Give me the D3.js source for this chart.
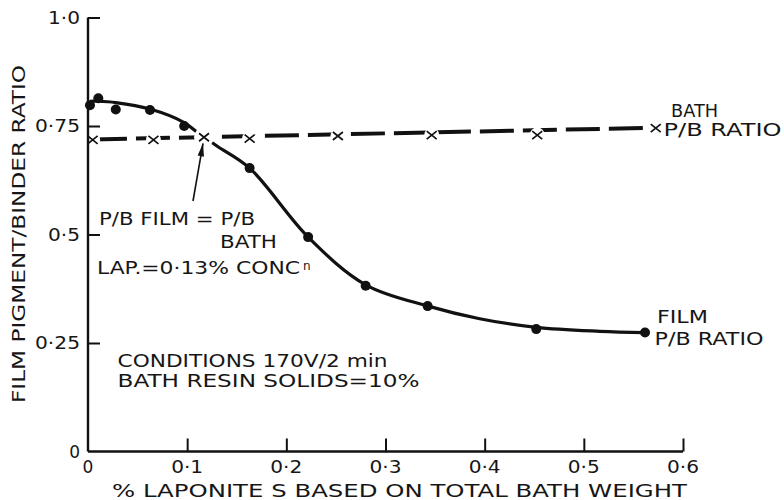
<!DOCTYPE html>
<html>
<head>
<meta charset="utf-8">
<script src="https://cdn.jsdelivr.net/npm/d3@7"></script>
<style>
  html, body { margin: 0; padding: 0; background: #fff; }
  svg { display: block; }
  text { font-family: "DejaVu Sans", "Liberation Sans", sans-serif; fill: #161616; }
</style>
</head>
<body>
<svg id="chart" width="784" height="500"></svg>
<script>
// ---- data ----
const filmX = [0.002, 0.0104, 0.028, 0.0625, 0.097, 0.163, 0.222, 0.280, 0.3425, 0.452, 0.5617];
const filmY = [0.798, 0.814, 0.788, 0.787, 0.750, 0.653, 0.494, 0.382, 0.335, 0.282, 0.274];
// hand-drawn fitted film curve
const filmCurveX = [0.002, 0.010, 0.028, 0.0625, 0.097, 0.110, 0.130, 0.163, 0.222, 0.280, 0.343, 0.395, 0.452, 0.516, 0.5617];
const filmCurveY = [0.807, 0.807, 0.804, 0.789, 0.758, 0.736, 0.704, 0.653, 0.494, 0.384, 0.335, 0.306, 0.286, 0.277, 0.274];
const bathX = [0.0047, 0.066, 0.117, 0.163, 0.252, 0.3466, 0.453, 0.5725];
const bathY = [0.718, 0.718, 0.724, 0.721, 0.727, 0.729, 0.729, 0.745];
// hand-drawn dashed bath trend line
const bathTrendX = [0.005, 0.5725];
const bathTrendY = [0.719, 0.746];
const xTicks = [0, 0.1, 0.2, 0.3, 0.4, 0.5, 0.6];
const xTickLabels = ["0", "0·1", "0·2", "0·3", "0·4", "0·5", "0·6"];
const yTicks = [0, 0.25, 0.5, 0.75, 1.0];
const yTickLabels = ["0", "0·25", "0·5", "0·75", "1·0"];
const crossingIndex = 2; // bath marker where P/B film = P/B bath

const svg = d3.select("#chart");
const x = d3.scaleLinear().domain([0, 0.6]).range([88, 683]);
const y = d3.scaleLinear().domain([0, 1]).range([451.5, 17.5]);

const film = filmX.map((v, i) => ({ x: v, y: filmY[i] }));
const filmCurve = filmCurveX.map((v, i) => ({ x: v, y: filmCurveY[i] }));
const bath = bathX.map((v, i) => ({ x: v, y: bathY[i] }));
const trend = bathTrendX.map((v, i) => ({ x: v, y: bathTrendY[i] }));

// film curve
svg.append("path")
  .datum(filmCurve)
  .attr("d", d3.line().x(d => x(d.x)).y(d => y(d.y)).curve(d3.curveCatmullRom.alpha(0.5)))
  .attr("fill", "none").attr("stroke", "#111").attr("stroke-width", 3.2);

// bath dashed trend line
svg.append("path")
  .datum(trend)
  .attr("d", d3.line().x(d => x(d.x)).y(d => y(d.y)))
  .attr("fill", "none").attr("stroke", "#111").attr("stroke-width", 4)
  .attr("stroke-dasharray", "34,9");

// white gaps around bath markers
svg.append("g").selectAll("circle").data(bath).join("circle")
  .attr("cx", d => x(d.x)).attr("cy", d => y(d.y))
  .attr("r", (d, i) => i === crossingIndex ? 10 : 7.5)
  .attr("fill", "#fff");

// bath markers (x)
svg.append("g").selectAll("path").data(bath).join("path")
  .attr("d", d => {
    const cx = x(d.x), cy = y(d.y);
    return `M${cx - 5},${cy - 4}L${cx + 5},${cy + 4}M${cx - 5},${cy + 4}L${cx + 5},${cy - 4}`;
  })
  .attr("stroke", "#111").attr("stroke-width", 1.7).attr("fill", "none");

// film markers
svg.append("g").selectAll("circle").data(film).join("circle")
  .attr("cx", d => x(d.x)).attr("cy", d => y(d.y)).attr("r", 5)
  .attr("fill", "#111");

// axes
const xAxis = d3.axisBottom(x).tickValues(xTicks).tickSize(-13).tickFormat("");
const gx = svg.append("g").attr("transform", `translate(0,${y(0)})`).call(xAxis);
gx.select(".domain").attr("d", `M${x(0)},0H${x(0.6)}`);
gx.selectAll(".tick").filter(d => d === 0).remove();
const yAxis = d3.axisLeft(y).tickValues(yTicks).tickSize(-12).tickFormat("");
const gy = svg.append("g").attr("transform", `translate(${x(0)},0)`).call(yAxis);
gy.select(".domain").attr("d", `M0,${y(0)}V${y(1)}`);
gy.selectAll(".tick").filter(d => d === 0).remove();
svg.selectAll(".domain").attr("stroke", "#111").attr("stroke-width", 2.4);
svg.selectAll(".tick line").attr("stroke", "#111").attr("stroke-width", 2);

const ADJ = "spacingAndGlyphs";
// tick labels
svg.append("g").selectAll("text").data(xTicks).join("text")
  .attr("x", d => x(d)).attr("y", 473).attr("text-anchor", "middle")
  .attr("font-size", 17)
  .attr("textLength", (d, i) => i === 0 ? null : 32).attr("lengthAdjust", ADJ)
  .text((d, i) => xTickLabels[i]);
const yLabW = { "0": null, "0·25": 45, "0·5": 32, "0·75": 45, "1·0": 32 };
svg.append("g").selectAll("text").data(yTicks).join("text")
  .attr("x", 80).attr("y", d => y(d)).attr("dy", "0.36em").attr("text-anchor", "end")
  .attr("font-size", 17)
  .attr("textLength", (d, i) => yLabW[yTickLabels[i]]).attr("lengthAdjust", ADJ)
  .text((d, i) => yTickLabels[i]);

// axis titles
svg.append("text").attr("x", 399.5).attr("y", 497).attr("text-anchor", "middle")
  .attr("font-size", 17).attr("textLength", 575).attr("lengthAdjust", ADJ)
  .text("% LAPONITE S BASED ON TOTAL BATH WEIGHT");
svg.append("text").attr("transform", "translate(25,234) rotate(-90)").attr("text-anchor", "middle")
  .attr("font-size", 17).attr("textLength", 338).attr("lengthAdjust", ADJ)
  .text("FILM PIGMENT/BINDER RATIO");

// series labels
function label(tx, ty, len, str, size) {
  svg.append("text").attr("x", tx).attr("y", ty).attr("font-size", size || 17)
    .attr("textLength", len).attr("lengthAdjust", ADJ).text(str);
}
label(671, 117, 47, "BATH");
label(663.5, 136, 118, "P/B RATIO");
label(657, 323, 51, "FILM");
label(654.5, 345, 109, "P/B RATIO");

// annotation
label(99, 225, 156, "P/B FILM = P/B");
label(220, 248, 57, "BATH");
label(97, 274, 203, "LAP.=0·13% CONC");
svg.append("text").attr("x", 303).attr("y", 270).attr("font-size", 12).text("n");
label(117.5, 367, 270, "CONDITIONS 170V/2 min");
label(117.5, 387, 302, "BATH RESIN SOLIDS=10%");

// arrow to crossing point
const cx = x(bathX[crossingIndex]), cy = y(bathY[crossingIndex]);
const tail = [193, 201], tip = [cx - 1, cy + 6];
svg.append("line").attr("x1", tail[0]).attr("y1", tail[1]).attr("x2", tip[0]).attr("y2", tip[1])
  .attr("stroke", "#111").attr("stroke-width", 1.6);
const ang = Math.atan2(tip[1] - tail[1], tip[0] - tail[0]);
const hl = 13, hw = 3.2;
const bx = tip[0] - hl * Math.cos(ang), by = tip[1] - hl * Math.sin(ang);
svg.append("path")
  .attr("d", `M${tip[0]},${tip[1]}L${bx + hw * Math.sin(ang)},${by - hw * Math.cos(ang)}L${bx - hw * Math.sin(ang)},${by + hw * Math.cos(ang)}Z`)
  .attr("fill", "#111");
</script>
</body>
</html>
